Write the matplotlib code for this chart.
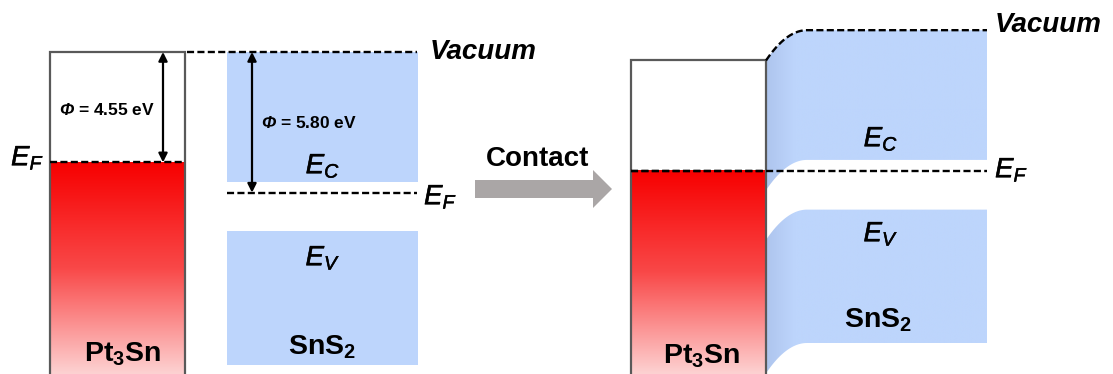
import numpy as np
import matplotlib
matplotlib.use("Agg")
import matplotlib.pyplot as plt
import matplotlib.patheffects as pe
from matplotlib.colors import LinearSegmentedColormap
from matplotlib.patches import Polygon, FancyArrow

plt.rcParams["font.family"] = ["Liberation Sans", "DejaVu Sans"]
plt.rcParams["mathtext.fontset"] = "custom"
plt.rcParams["mathtext.rm"] = "Liberation Sans"
plt.rcParams["mathtext.it"] = "Liberation Sans:italic"
plt.rcParams["mathtext.bf"] = "Liberation Sans:bold"
plt.rcParams["mathtext.bfit"] = "Liberation Sans:bold:italic"

# ---- energy levels (eV); vacuum level of the isolated materials = 0 ----
materials = [r"$\mathbf{Pt_3Sn}$", r"$\mathbf{SnS_2}$"]
work_function = [4.55, 5.80]        # Pt3Sn, SnS2
sns2_cb_above_ef = 0.45             # E_C - E_F in SnS2
sns2_vb_below_ef = 1.60             # E_F - E_V(top) in SnS2
sns2_vb_depth = 5.50                # drawn depth of the valence band
ef_contact = -4.90                  # common Fermi level after contact
level_labels = [r"$E_F$", r"$E_C$", r"$E_V$", "Vacuum"]

# ---- drawing scale / layout ----
W, H = 1113, 374
PX_PER_EV = 24.25
VAC_PX = 52


def py(p):
    """pixel row -> energy axis value"""
    return -(p - VAC_PX) / PX_PER_EV


BLUE = "#bdd5fc"
BLUE_DARK = "#aec5ee"
GREY = "#595959"
ARROW_GREY = "#aaa6a6"
DASH = (0, (3.0, 1.4))
DASH_LW = 1.7
MEDIUM = [pe.withStroke(linewidth=0.35, foreground="black")]
red_cmap = LinearSegmentedColormap.from_list("metal", ["#f70000", "#f94848", "#fdd2d2"])
blue_cmap = LinearSegmentedColormap.from_list(
    "band", [(0, BLUE_DARK), (0.05, "#b4cbf3"), (0.13, BLUE), (1, BLUE)])

fig = plt.figure(figsize=(W / 100, H / 100), dpi=100)
ax = fig.add_axes([0, 0, 1, 1])
ax.set_xlim(0, W)
ax.set_ylim(py(H), py(0))
ax.axis("off")

phi_m, phi_s = work_function
bottom = py(H) - 1


def metal(x0, x1, vac, ef):
    img = np.linspace(0, 1, 256).reshape(-1, 1)
    ax.imshow(img, cmap=red_cmap, aspect="auto", extent=(x0, x1, py(H), ef),
              origin="upper", zorder=1)
    ax.plot([x0, x0, x1, x1], [bottom, vac, vac, bottom], color=GREY, lw=1.6,
            solid_joinstyle="miter", zorder=3)
    ax.plot([x0, x1], [ef, ef], color="black", lw=DASH_LW, ls=DASH, zorder=4)


def double_arrow(x, y0, y1):
    ax.annotate("", xy=(x, y1), xytext=(x, y0),
                arrowprops=dict(arrowstyle="<|-|>", color="black", lw=1.6,
                                mutation_scale=13, shrinkA=0, shrinkB=0),
                zorder=5)


def level_text(x, y, s, ha):
    ax.text(x, y, s, fontsize=20, ha=ha, va="center", path_effects=MEDIUM)


# ================= before contact =================
ef_m = -phi_m
ef_s = -phi_s
cb_s = ef_s + sns2_cb_above_ef
vb_s = ef_s - sns2_vb_below_ef

metal(50, 185, 0.0, ef_m)
ax.fill_between([227, 418], cb_s, 0.0, color=BLUE, lw=0, zorder=1)
ax.fill_between([227, 418], vb_s - sns2_vb_depth, vb_s, color=BLUE, lw=0, zorder=1)
ax.plot([187, 417], [0, 0], color="black", lw=DASH_LW, ls=DASH, zorder=4)
ax.plot([227, 417], [ef_s, ef_s], color="black", lw=DASH_LW, ls=DASH, zorder=4)
double_arrow(163, 0.0, ef_m)
double_arrow(252, 0.0, ef_s)

ax.text(107, py(110), r"$\mathbfit{\Phi}$ = %.2f eV" % phi_m, fontsize=12.5,
        fontweight="bold", ha="center", va="center")
ax.text(309, py(123), r"$\mathbfit{\Phi}$ = %.2f eV" % phi_s, fontsize=12.5,
        fontweight="bold", ha="center", va="center")
ax.text(430, py(52), level_labels[3], fontsize=20, fontweight="bold",
        fontstyle="italic", ha="left", va="center")
level_text(11, py(158), level_labels[0], "left")
level_text(424, py(197), level_labels[0], "left")
level_text(323, py(166), level_labels[1], "center")
level_text(323, py(258), level_labels[2], "center")
ax.text(123, py(354), materials[0], fontsize=20.5, ha="center", va="center")
ax.text(322, py(347), materials[1], fontsize=20.5, ha="center", va="center")

# ================= contact arrow =================
ax.add_patch(FancyArrow(475, py(189), 137, 0, width=18 / PX_PER_EV,
                        head_width=38 / PX_PER_EV, head_length=19,
                        length_includes_head=True, color=ARROW_GREY, lw=0))
ax.text(538, py(159), "Contact", fontsize=20, fontweight="bold",
        ha="center", va="center")

# ================= after contact =================
xm0, xi, xb, xe = 631, 766, 807, 987
bend = phi_s - phi_m
vac_bulk = ef_contact + phi_s
metal(xm0, xi, ef_contact + phi_m, ef_contact)

xs = np.linspace(xi, xe, 400)
t = np.clip((xs - xi) / (xb - xi), 0, 1)
shift = -bend * (1 - t) ** 2
vac_r = vac_bulk + shift
cb_r = ef_contact + sns2_cb_above_ef + shift
vbt_r = ef_contact - sns2_vb_below_ef + shift
vbb_r = vbt_r - sns2_vb_depth

grad = np.linspace(0, 1, 512).reshape(1, -1)
for top, low in [(vac_r, cb_r), (vbt_r, vbb_r)]:
    poly = Polygon(np.column_stack([np.r_[xs, xs[::-1]], np.r_[top, low[::-1]]]),
                   closed=True, facecolor="none", edgecolor="none")
    ax.add_patch(poly)
    im = ax.imshow(grad, cmap=blue_cmap, aspect="auto",
                   extent=(xi, xe, low.min(), top.max()), zorder=1)
    im.set_clip_path(poly)

ax.plot(xs, vac_r, color="black", lw=DASH_LW, ls=DASH, zorder=4)
ax.plot([xm0, xe], [ef_contact, ef_contact], color="black", lw=DASH_LW, ls=DASH, zorder=4)

ax.text(995, py(25), level_labels[3], fontsize=20, fontweight="bold",
        fontstyle="italic", ha="left", va="center")
level_text(995, py(170), level_labels[0], "left")
level_text(881, py(139), level_labels[1], "center")
level_text(881, py(234), level_labels[2], "center")
ax.text(702, py(356), materials[0], fontsize=20.5, ha="center", va="center")
ax.text(878, py(320), materials[1], fontsize=20.5, ha="center", va="center")

fig.savefig("out.png", dpi=100)
